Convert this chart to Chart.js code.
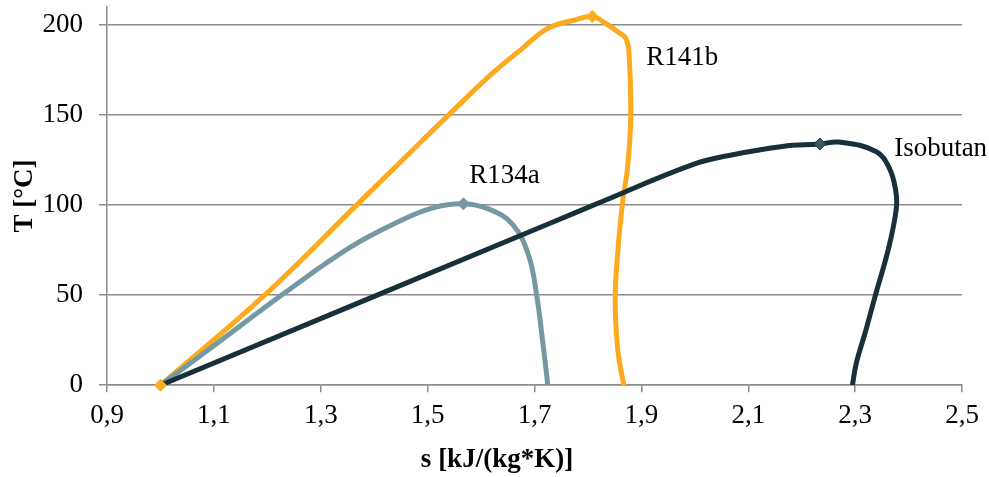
<!DOCTYPE html>
<html>
<head>
<meta charset="utf-8">
<script src="https://cdn.jsdelivr.net/npm/chart.js@4.4.1/dist/chart.umd.min.js"></script>
<style>
  html, body { margin: 0; padding: 0; background: #fff; }
</style>
</head>
<body>
<canvas id="tsChart" width="989" height="477"></canvas>
<script>
// data
const r141bS = [1.0, 1.195, 1.367, 1.454, 1.538, 1.622, 1.678, 1.715, 1.740, 1.771, 1.808, 1.834, 1.859, 1.871, 1.877, 1.880, 1.874, 1.865, 1.856, 1.851, 1.856, 1.867];
const r141bT = [0, 50, 100, 125.3, 149.7, 173.4, 187.2, 196.4, 200.1, 202.5, 204.7, 200.7, 195.6, 192.5, 184, 148, 120.6, 102, 74.6, 47, 19.3, 0];

const r134aS = [1.0, 1.105, 1.2295, 1.354, 1.448, 1.51, 1.567, 1.616, 1.659, 1.689, 1.704, 1.715, 1.725];
const r134aT = [0, 23, 50.6, 76.4, 91.2, 98.5, 100.7, 97.6, 89.3, 72, 50, 25, 0];

const isoS = [1.0, 1.728, 1.821, 1.996, 2.071, 2.164, 2.234, 2.27, 2.339, 2.364, 2.376, 2.377, 2.363, 2.338, 2.32, 2.302, 2.295];
const isoT = [0, 89.8, 101.3, 122.5, 128, 132.6, 133.9, 135, 129.8, 120.6, 108, 98, 76.5, 50, 30.4, 12, 0];

const xTicks = [0.9, 1.1, 1.3, 1.5, 1.7, 1.9, 2.1, 2.3, 2.5];
const yTicks = [0, 50, 100, 150, 200];

const labelText = ['R141b', 'R134a', 'Isobutan'];
const labelS = [1.909, 1.578, 2.373];
const labelT = [182, 116, 131];

const serif = "'Liberation Serif', 'Times New Roman', serif";

function pts(xs, ys) {
    return xs.map((x, i) => ({ x: x, y: ys[i] }));
}
// marker only on the listed indexes
function radii(n, idx, r) {
    const a = new Array(n).fill(0);
    idx.forEach(i => { a[i] = r; });
    return a;
}

const curveLabels = {
    id: 'curveLabels',
    afterDatasetsDraw(chart) {
        const ctx = chart.ctx;
        const xs = chart.scales.x, ys = chart.scales.y;
        ctx.save();
        ctx.font = '27px ' + serif;
        ctx.fillStyle = '#000';
        ctx.textAlign = 'left';
        ctx.textBaseline = 'middle';
        labelText.forEach((t, i) => {
            ctx.fillText(t, xs.getPixelForValue(labelS[i]), ys.getPixelForValue(labelT[i]));
        });
        ctx.restore();
    }
};

const tsData = {
    datasets: [{
        // start marker of R141b, sits on top of everything
        label: 'R141b start',
        data: [{ x: r141bS[0], y: r141bT[0] }],
        pointStyle: 'rectRot',
        pointRadius: 6,
        pointBackgroundColor: '#fdaa1e',
        pointBorderColor: '#fdaa1e',
        pointBorderWidth: 1,
        showLine: false,
        clip: false
    }, {
        label: 'Isobutan',
        data: pts(isoS, isoT),
        borderColor: '#17303a',
        borderWidth: 5,
        pointStyle: 'rectRot',
        pointRadius: radii(isoS.length, [6], 6),
        pointBackgroundColor: '#3f5a5f',
        pointBorderColor: '#17303a',
        pointBorderWidth: 1,
        showLine: true,
        tension: 0.4
    }, {
        label: 'R134a',
        data: pts(r134aS, r134aT),
        borderColor: '#7599a2',
        borderWidth: 5,
        pointStyle: 'rectRot',
        pointRadius: radii(r134aS.length, [6], 6),
        pointBackgroundColor: '#7599a2',
        pointBorderColor: '#7599a2',
        pointBorderWidth: 1,
        showLine: true,
        tension: 0.4
    }, {
        label: 'R141b',
        data: pts(r141bS, r141bT),
        borderColor: '#fdaa1e',
        borderWidth: 5,
        pointStyle: 'rectRot',
        pointRadius: radii(r141bS.length, [10], 6),
        pointBackgroundColor: '#fdaa1e',
        pointBorderColor: '#fdaa1e',
        pointBorderWidth: 1,
        showLine: true,
        tension: 0.4
    }]
};

const tsOptions = {
    responsive: false,
    animation: false,
    layout: { padding: { left: 9, right: 4, top: 6, bottom: 0 } },
    plugins: {
        legend: { display: false },
        tooltip: { enabled: false },
        title: {
            display: true,
            position: 'bottom',
            text: 's [kJ/(kg*K)]',
            color: '#000',
            font: { family: serif, size: 27, weight: 'bold' },
            padding: { top: 3, bottom: 1 }
        }
    },
    scales: {
        x: {
            type: 'linear',
            min: 0.9,
            max: 2.5,
            afterBuildTicks: s => { s.ticks = xTicks.map(v => ({ value: v })); },
            afterFit: s => { s.paddingRight = 27; },
            ticks: {
                color: '#000',
                font: { family: serif, size: 27 },
                padding: 8,
                maxRotation: 0,
                callback: v => v.toFixed(1).replace('.', ',')
            },
            grid: { drawOnChartArea: false, drawTicks: true, tickLength: 7, color: '#8c8c8c', lineWidth: 1.5 },
            border: { color: '#8c8c8c', width: 1.5 }
        },
        y: {
            min: 0,
            max: 210,
            afterBuildTicks: s => { s.ticks = yTicks.map(v => ({ value: v })); },
            afterFit: s => { s.width = 98; s.paddingTop = 0; s.paddingBottom = 0; },
            ticks: {
                color: '#000',
                font: { family: serif, size: 27 },
                padding: 16
            },
            grid: { color: '#8c8c8c', lineWidth: 1.5, tickLength: 8 },
            border: { color: '#8c8c8c', width: 1.5 },
            title: {
                display: true,
                text: 'T [°C]',
                color: '#000',
                font: { family: serif, size: 27, weight: 'bold' },
                padding: { top: 0, bottom: 0 }
            }
        }
    }
};

const tsChart = new Chart(document.getElementById('tsChart'), {
    type: 'scatter',
    data: tsData,
    options: tsOptions,
    plugins: [curveLabels]
});
</script>
</body>
</html>
